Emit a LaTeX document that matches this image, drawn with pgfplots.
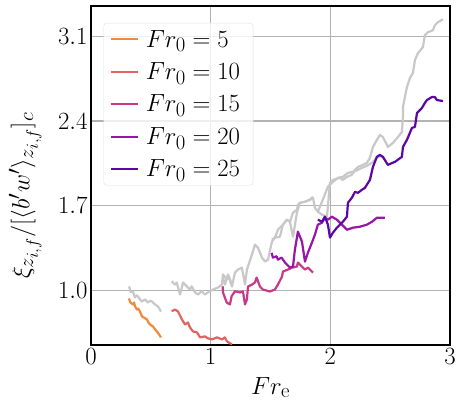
\documentclass[border=0pt]{standalone}
\usepackage{pgfplots}
\pgfplotsset{compat=1.18}
\definecolor{cA}{RGB}{243,137,58}
\definecolor{cB}{RGB}{226,100,98}
\definecolor{cC}{RGB}{198,58,136}
\definecolor{cD}{RGB}{151,22,166}
\definecolor{cE}{RGB}{92,6,166}
\definecolor{gl}{RGB}{200,200,200}
\begin{document}
\begin{tikzpicture}
\begin{axis}[
 name=ax,
 scale only axis, width=359bp, height=339bp,
 xmin=0, xmax=3, ymin=0.55, ymax=3.35,
 xtick={0,1,2,3}, ytick={1.0,1.7,2.4,3.1},
 yticklabel style={/pgf/number format/.cd, fixed, fixed zerofill, precision=1},
 grid=major, grid style={line width=1.4bp, color=black!30},
 major tick length=0pt,
 axis line style={line width=1.5bp},
 tick label style={font=\fontsize{24.88}{30}\selectfont},
 label style={font=\fontsize{24.88}{30}\selectfont},
 xlabel={$Fr_{\mathrm{e}}$},
 xlabel style={yshift=-6bp},
 ylabel={$\xi_{z_{i,f}}/[\langle b'w'\rangle_{z_{i,f}}]_c$},
 ylabel style={at={(axis description cs:-0.229,0.44)}, anchor=north, inner sep=0pt},
 legend style={at={(0.035,0.95)}, anchor=north west, font=\fontsize{24.88}{29}\selectfont, fill=white, fill opacity=0.8, text opacity=1, draw=black!12, rounded corners=3bp, row sep=10bp, inner xsep=6bp, inner ysep=5bp,
   nodes={inner xsep=7bp}},
 legend cell align=left,
 legend image code/.code={\draw[#1, line width=2bp] (0bp,0bp) -- (27bp,0bp);},
 every axis plot/.append style={line width=2.2bp, line join=round},
]
% gray companions
\addplot[gl, forget plot] coordinates {(0.319,1.035)(0.330,0.990)(0.340,0.984)(0.351,0.992)(0.360,0.960)(0.368,0.942)(0.380,0.960)(0.393,0.951)(0.410,0.925)(0.426,0.909)(0.451,0.926)(0.476,0.901)(0.495,0.915)(0.510,0.909)(0.535,0.885)(0.560,0.868)(0.585,0.827)};
\addplot[gl, forget plot] coordinates {(0.674,1.077)(0.702,1.049)(0.716,1.066)(0.744,0.967)(0.769,1.066)(0.800,1.035)(0.827,1.008)(0.841,1.035)(0.869,0.984)(0.894,0.967)(0.925,0.994)(0.952,0.967)(0.977,0.984)(1.019,1.008)(1.061,1.025)(1.094,1.049)(1.103,1.132)(1.136,1.091)(1.150,1.120)(1.178,1.049)};
\addplot[gl, forget plot] coordinates {(1.103,1.107)(1.119,1.049)(1.145,1.132)(1.178,1.033)(1.203,1.148)(1.228,1.173)(1.261,1.189)(1.287,1.049)(1.303,1.173)(1.345,1.297)(1.370,1.379)(1.395,1.354)(1.429,1.272)(1.454,1.239)(1.479,1.255)(1.512,1.404)(1.537,1.437)(1.579,1.445)(1.604,1.544)(1.637,1.585)(1.662,1.568)(1.688,1.445)(1.721,1.643)(1.746,1.725)(1.788,1.733)(1.830,1.750)(1.855,1.774)};
\addplot[gl, forget plot] coordinates {(1.512,1.420)(1.537,1.437)(1.562,1.502)(1.604,1.544)(1.637,1.585)(1.663,1.568)(1.688,1.643)(1.721,1.667)(1.729,1.708)(1.746,1.725)(1.788,1.733)(1.830,1.750)(1.855,1.766)(1.871,1.684)(1.896,1.651)(1.930,1.733)(1.980,1.857)(2.022,1.898)(2.064,1.931)(2.105,1.939)(2.147,1.972)(2.189,1.980)(2.231,1.997)(2.264,2.013)(2.306,2.030)(2.356,2.060)(2.389,2.100)(2.423,2.110)(2.456,2.090)};
\addplot[gl, forget plot] coordinates {(1.896,1.651)(1.930,1.626)(1.972,1.610)(1.997,1.890)(2.022,1.914)(2.080,1.931)(2.105,1.914)(2.139,1.939)(2.180,1.956)(2.206,1.997)(2.231,2.021)(2.273,2.038)(2.306,2.054)(2.331,2.096)(2.356,2.186)(2.389,2.244)(2.414,2.285)(2.439,2.268)(2.481,2.186)(2.523,2.219)(2.565,2.268)(2.598,2.310)(2.607,2.433)(2.607,2.516)(2.623,2.598)(2.640,2.680)(2.665,2.755)(2.690,2.796)(2.707,2.903)(2.732,2.960)(2.774,3.010)(2.790,3.109)(2.815,3.133)(2.857,3.150)(2.874,3.191)(2.899,3.216)(2.941,3.240)};
% coloured series
\addplot[cA] coordinates {(0.317,0.934)(0.330,0.900)(0.351,0.885)(0.360,0.901)(0.368,0.870)(0.384,0.843)(0.395,0.850)(0.409,0.827)(0.426,0.786)(0.445,0.775)(0.468,0.761)(0.480,0.735)(0.493,0.720)(0.518,0.703)(0.535,0.680)(0.551,0.662)(0.568,0.638)(0.585,0.613)};
\addlegendentry{$Fr_0 = 5$}
\addplot[cB] coordinates {(0.674,0.829)(0.702,0.843)(0.727,0.827)(0.760,0.761)(0.785,0.720)(0.810,0.736)(0.827,0.695)(0.852,0.662)(0.886,0.654)(0.911,0.613)(0.952,0.621)(0.977,0.605)(1.011,0.596)(1.053,0.613)(1.094,0.596)(1.119,0.613)(1.136,0.580)(1.161,0.564)(1.178,0.556)};
\addlegendentry{$Fr_0 = 10$}
\addplot[cC] coordinates {(1.100,1.035)(1.103,0.984)(1.134,0.901)(1.161,0.885)(1.175,0.953)(1.203,0.994)(1.245,0.984)(1.270,0.992)(1.287,0.885)(1.303,0.926)(1.312,1.033)(1.345,1.049)(1.370,1.066)(1.384,1.107)(1.412,1.033)(1.437,1.008)(1.495,0.992)(1.537,1.008)(1.562,1.049)(1.596,1.115)(1.604,1.157)(1.646,1.173)(1.679,1.189)(1.721,1.198)(1.729,1.231)(1.763,1.198)(1.788,1.173)(1.813,1.189)(1.855,1.148)};
\addlegendentry{$Fr_0 = 15$}
\addplot[cD] coordinates {(1.510,1.311)(1.520,1.272)(1.551,1.283)(1.562,1.255)(1.593,1.272)(1.621,1.231)(1.663,1.189)(1.688,1.198)(1.704,1.338)(1.729,1.486)(1.763,1.404)(1.788,1.239)(1.813,1.313)(1.846,1.395)(1.871,1.461)(1.896,1.544)(1.930,1.560)(1.955,1.601)(1.980,1.585)(2.013,1.610)(2.055,1.585)(2.097,1.544)(2.139,1.502)(2.189,1.519)(2.247,1.527)(2.306,1.544)(2.348,1.568)(2.389,1.601)(2.456,1.601)};
\addlegendentry{$Fr_0 = 20$}
\addplot[cE] coordinates {(1.896,1.585)(1.930,1.568)(1.955,1.610)(1.980,1.544)(1.997,1.437)(2.022,1.478)(2.055,1.519)(2.080,1.544)(2.105,1.568)(2.139,1.610)(2.147,1.725)(2.180,1.766)(2.206,1.815)(2.231,1.807)(2.264,1.832)(2.289,1.848)(2.331,1.914)(2.356,2.021)(2.389,2.104)(2.414,2.120)(2.439,2.104)(2.481,2.038)(2.540,2.063)(2.598,2.104)(2.607,2.186)(2.640,2.244)(2.682,2.343)(2.707,2.351)(2.724,2.466)(2.765,2.507)(2.790,2.549)(2.807,2.573)(2.849,2.598)(2.874,2.598)(2.891,2.573)(2.941,2.565)};
\addlegendentry{$Fr_0 = 25$}
\end{axis}
\pgfresetboundingbox
\path[use as bounding box] ([xshift=-91bp,yshift=-62bp]ax.south west) rectangle ([xshift=11bp,yshift=6bp]ax.north east);
\end{tikzpicture}
\end{document}
